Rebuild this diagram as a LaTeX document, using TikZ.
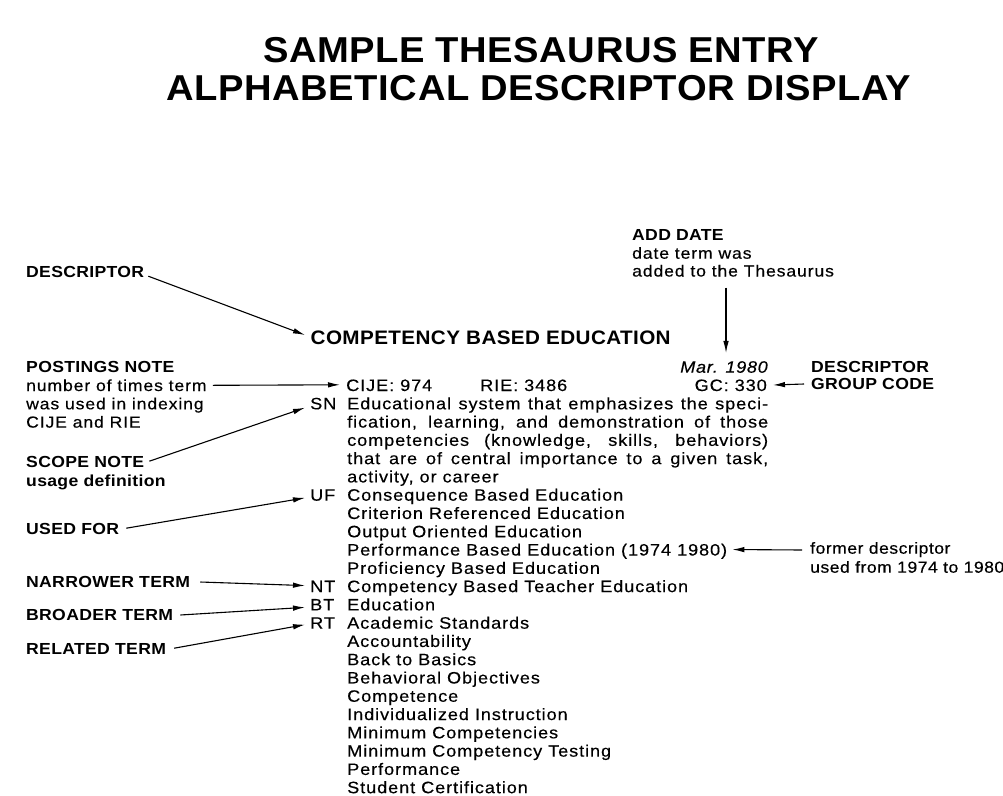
\documentclass[tikz,border=0pt]{standalone}
\usepackage{fontspec}
\setmainfont{Liberation Sans}
\newfontfamily\bodyfont{Liberation Sans}[FakeStretch=1.1, LetterSpace=5.5, FakeBold=0.3,
  BoldFeatures={LetterSpace=2, FakeBold=0}, ItalicFeatures={LetterSpace=4}]
\newfontfamily\headfont{Liberation Sans}[FakeStretch=1.06, LetterSpace=2]
\newfontfamily\titlefont{Liberation Sans}[FakeStretch=1.06, LetterSpace=1.5]
\usetikzlibrary{arrows.meta,calc}

\tikzset{
  txt/.style={inner sep=0, anchor=base west, font=\fontsize{16.5}{18.3}\bodyfont},
  note/.style={inner sep=0, anchor=base west, font=\fontsize{16}{18.3}\bodyfont},
  lab/.style={inner sep=0, anchor=base west, font=\fontsize{16}{18.3}\bodyfont\bfseries},
  ttl/.style={inner sep=0, anchor=base, font=\fontsize{36}{40}\titlefont\bfseries},
  conn/.style={-{Latex[length=12pt,width=5.5pt]}, line width=1.1pt},
}

\begin{document}
\begin{tikzpicture}[x=1pt,y=-1pt]
\fill[white] (0,0) rectangle (1003,795);
\useasboundingbox (0,0) rectangle (1003,795);

% title
\node[ttl] (t1) at (541,62) {SAMPLE THESAURUS ENTRY};
\node[ttl] (t2) at (539,100) {ALPHABETICAL DESCRIPTOR DISPLAY};

% descriptor heading
\node[inner sep=0, anchor=base west, font=\fontsize{19.5}{22}\headfont\bfseries] (head) at (310.5,344) {COMPETENCY BASED EDUCATION};

% entry body: baseline of line k is 391 + 18.28 k
\node[txt] (cije) at (346,391) {CIJE: 974};
\node[txt] (rie) at (480,391) {RIE: 3486};
\node[txt, anchor=base east] (gc) at (767,391) {GC: 330};
\node[txt, anchor=base east, font=\fontsize{16.5}{18.3}\bodyfont\itshape] (mar) at (768,372.7) {Mar. 1980};

% tags
\node[txt] (snt) at (310,{391+18.28*1}) {SN};
\node[txt] (uft) at (310,{391+18.28*6}) {UF};
\node[txt] (ntt) at (310,{391+18.28*11}) {NT};
\node[txt] (btt) at (310,{391+18.28*12}) {BT};
\node[txt] (rtt) at (310,{391+18.28*13}) {RT};

% scope note, justified
\node[txt] (sn1) at (347,{391+18.28*1}) {\makebox[421pt][s]{Educational system that emphasizes the speci-}};
\node[txt] (sn2) at (347,{391+18.28*2}) {\makebox[421pt][s]{fication, learning, and demonstration of those}};
\node[txt] (sn3) at (347,{391+18.28*3}) {\makebox[421pt][s]{competencies (knowledge, skills, behaviors)}};
\node[txt] (sn4) at (347,{391+18.28*4}) {\makebox[421pt][s]{that are of central importance to a given task,}};
\node[txt] (sn5) at (347,{391+18.28*5}) {activity, or career};

% term lists
\foreach \t [count=\k from 6] in {Consequence Based Education, Criterion Referenced Education,
    Output Oriented Education, Performance Based Education (1974 1980), Proficiency Based Education,
    Competency Based Teacher Education, Education, Academic Standards, Accountability,
    Back to Basics, Behavioral Objectives, Competence, Individualized Instruction,
    Minimum Competencies, Minimum Competency Testing, Performance, Student Certification}
  \node[txt] (term\k) at (347,{391+18.28*\k}) {\t};

% left-hand labels
\node[lab] (desc) at (26,277.7) {DESCRIPTOR};
\node[lab] (pn1) at (26,372.7) {POSTINGS NOTE};
\node[note] (pn2) at (26,391) {number of times term};
\node[note] (pn3) at (26,409.3) {was used in indexing};
\node[note] (pn4) at (26,427.6) {CIJE and RIE};
\node[lab] (sc1) at (26,467.7) {SCOPE NOTE};
\node[lab] (sc2) at (26,486) {usage definition};
\node[lab] (uf) at (26,534.7) {USED FOR};
\node[lab] (nt) at (26,587.7) {NARROWER TERM};
\node[lab] (bt) at (26,620.7) {BROADER TERM};
\node[lab] (rt) at (26,654.7) {RELATED TERM};

% right-hand labels
\node[lab] (ad1) at (632,240.7) {ADD DATE};
\node[note] (ad2) at (632,258.7) {date term was};
\node[note] (ad3) at (632,276.5) {added to the Thesaurus};
\node[lab] (gl1) at (811,372.7) {DESCRIPTOR};
\node[lab] (gl2) at (811,389.7) {GROUP CODE};
\tikzset{narrow/.style={font=\fontsize{16}{18.3}\bodyfont\addfontfeatures{LetterSpace=3}}}
\node[note, narrow] (fd1) at (810,553.7) {former descriptor};
\node[note, narrow] (fd2) at (810,572.7) {used from 1974 to 1980};

% connectors
\draw[conn] ($(desc.base east)+(4,-1.5)$) -- ($(head.base west)+(-5.5,-9)$);
\draw[conn] ($(pn2.base east)+(6,-5.7)$) -- ($(cije.base west)+(-6,-6.2)$);
\draw[conn] ($(sc1.base east)+(5,-6.5)$) -- ($(snt.base west)+(-5,-1.6)$);
\draw[conn] ($(uf.base east)+(7,-6.5)$) -- ($(uft.base west)+(-5,-2.8)$);
\draw[conn] ($(nt.base east)+(10,-5.7)$) -- ($(ntt.base west)+(-5,-6.5)$);
\draw[conn] ($(bt.base east)+(7,-5.7)$) -- ($(btt.base west)+(-5,-3)$);
\draw[conn] ($(rt.base east)+(8,-6.5)$) -- ($(rtt.base west)+(-5,-4)$);
\draw[conn] ($(ad3.base -| mar.north)+(2,11)$) -- ($(mar.north)+(2,-8)$);
\draw[conn] ($(gl2.base west)+(-7,-5.7)$) -- ($(gc.base east)+(6,-6)$);
\draw[conn] ($(fd1.base west)+(-8,-3.7)$) -- ($(term9.base east)+(5,-6)$);
\end{tikzpicture}
\end{document}
